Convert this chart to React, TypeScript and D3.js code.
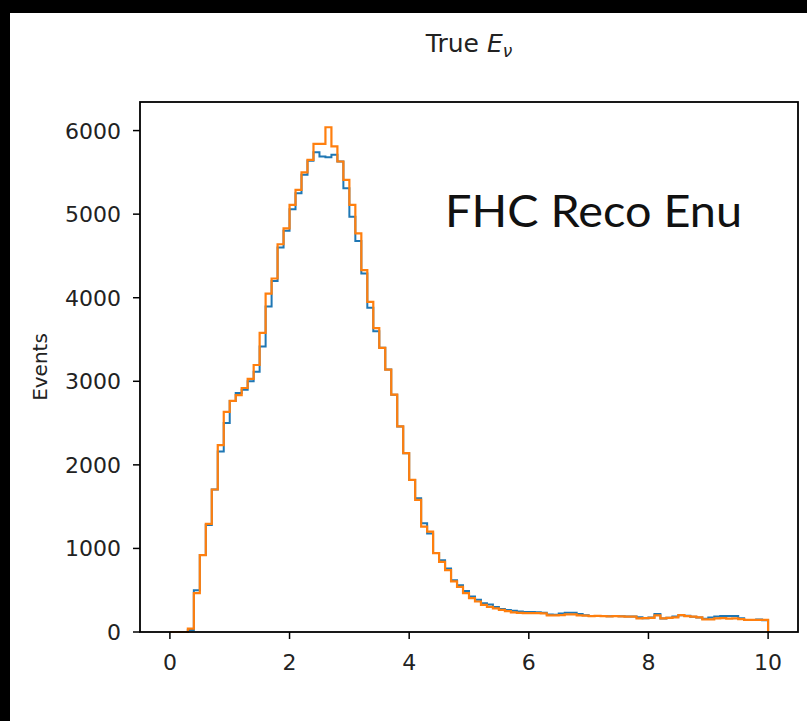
import React from "react";
import * as d3 from "d3";

const BIN_START = 0;
const BIN_WIDTH = 0.1;
const BIN_COUNT = 100;

const blueCounts = [
  0, 0, 0, 25, 500, 920, 1280, 1705, 2160, 2500,
  2765, 2860, 2900, 3000, 3115, 3415, 3895, 4200, 4600, 4800,
  5060, 5250, 5470, 5640, 5740, 5690, 5680, 5710, 5630, 5310,
  4970, 4680, 4290, 3880, 3600, 3400, 3140, 2840, 2460, 2140,
  1820, 1600, 1300, 1180, 945, 860, 760, 620, 560, 490,
  425, 385, 345, 330, 300, 275, 262, 255, 245, 240,
  240, 235, 230, 210, 205, 220, 231, 231, 215, 200,
  190, 192, 190, 188, 190, 187, 185, 185, 178, 165,
  175, 215, 163, 170, 185, 200, 195, 183, 175, 160,
  175, 185, 191, 191, 191, 165, 145, 145, 150, 140,
];

const orangeCounts = [
  0, 0, 0, 40, 465, 920, 1295, 1705, 2235, 2635,
  2765, 2835, 2920, 3030, 3195, 3580, 4050, 4230, 4640, 4830,
  5110, 5290, 5500, 5650, 5840, 5840, 6040, 5810, 5630, 5410,
  5110, 4770, 4330, 3950, 3635, 3400, 3140, 2840, 2460, 2140,
  1820, 1580, 1260, 1200, 945, 840, 740, 605, 540, 465,
  405, 365, 325, 300, 283, 265, 250, 235, 230, 225,
  225, 225, 222, 200, 200, 203, 210, 210, 200, 195,
  190, 192, 190, 188, 190, 187, 185, 185, 163, 165,
  170, 200, 163, 170, 175, 203, 190, 183, 175, 150,
  150, 163, 165, 160, 163, 155, 145, 145, 144, 144,
];

const xTicks = [0, 2, 4, 6, 8, 10];
const yTicks = [0, 1000, 2000, 3000, 4000, 5000, 6000];

const TITLE_MAIN = "True ";
const TITLE_SYM = "E";
const TITLE_SUB = "ν";
const Y_LABEL = "Events";
const ANNOTATION = "FHC Reco Enu";

const W = 807;
const H = 721;
const plot = { left: 140, top: 102, right: 798, bottom: 632 };
const tickFont = "'DejaVu Sans', sans-serif";

function stepPath(
  counts: number[],
  x: d3.ScaleLinear<number, number>,
  y: d3.ScaleLinear<number, number>
) {
  const pts: [number, number][] = [];
  const edge = (i: number) => BIN_START + i * BIN_WIDTH;
  pts.push([x(edge(0)), y(0)]);
  counts.forEach((c, i) => {
    pts.push([x(edge(i)), y(c)]);
    pts.push([x(edge(i + 1)), y(c)]);
  });
  pts.push([x(edge(BIN_COUNT)), y(0)]);
  return d3.line()(pts) || "";
}

export default function App() {
  const xMin = BIN_START;
  const xMax = BIN_START + BIN_COUNT * BIN_WIDTH;
  const pad = (xMax - xMin) * 0.05;
  const x = d3
    .scaleLinear()
    .domain([xMin - pad, xMax + pad])
    .range([plot.left, plot.right]);
  const yMaxData = d3.max([...blueCounts, ...orangeCounts]) as number;
  const y = d3
    .scaleLinear()
    .domain([0, yMaxData * 1.05])
    .range([plot.bottom, plot.top]);

  const cx = (plot.left + plot.right) / 2;
  const cy = (plot.top + plot.bottom) / 2;

  return (
    <svg
      width={W}
      height={H}
      viewBox={`0 0 ${W} ${H}`}
      style={{ position: "absolute", left: 0, top: 0, display: "block" }}
    >
      <rect x={0} y={0} width={W} height={H} fill="#ffffff" />
      <rect x={0} y={0} width={W} height={13} fill="#000000" />
      <rect x={0} y={0} width={10} height={H} fill="#000000" />

      {/* histograms */}
      <path
        d={stepPath(blueCounts, x, y)}
        fill="none"
        stroke="#1f77b4"
        strokeWidth={2}
        strokeLinejoin="miter"
      />
      <path
        d={stepPath(orangeCounts, x, y)}
        fill="none"
        stroke="#ff7f0e"
        strokeWidth={2.2}
        strokeLinejoin="miter"
      />

      {/* frame */}
      <rect
        x={plot.left}
        y={plot.top}
        width={plot.right - plot.left}
        height={plot.bottom - plot.top}
        fill="none"
        stroke="#000"
        strokeWidth={1.8}
      />

      {/* x ticks */}
      {xTicks.map((t) => (
        <g key={`xt${t}`}>
          <line
            x1={x(t)}
            x2={x(t)}
            y1={plot.bottom}
            y2={plot.bottom + 7}
            stroke="#000"
            strokeWidth={1.5}
          />
          <text
            x={x(t)}
            y={plot.bottom + 38}
            textAnchor="middle"
            fontFamily={tickFont}
            fontSize={22}
            fill="#222"
          >
            {t}
          </text>
        </g>
      ))}

      {/* y ticks */}
      {yTicks.map((t) => (
        <g key={`yt${t}`}>
          <line
            x1={plot.left - 7}
            x2={plot.left}
            y1={y(t)}
            y2={y(t)}
            stroke="#000"
            strokeWidth={1.5}
          />
          <text
            x={plot.left - 19}
            y={y(t)}
            dy="0.36em"
            textAnchor="end"
            fontFamily={tickFont}
            fontSize={22}
            fill="#222"
          >
            {t}
          </text>
        </g>
      ))}

      {/* y label */}
      <text
        transform={`translate(47, ${cy}) rotate(-90)`}
        textAnchor="middle"
        fontFamily={tickFont}
        fontSize={20}
        fill="#222"
      >
        {Y_LABEL}
      </text>

      {/* title */}
      <text
        x={cx}
        y={52}
        textAnchor="middle"
        fontFamily={tickFont}
        fontSize={25}
        fill="#222"
      >
        {TITLE_MAIN}
        <tspan fontStyle="italic">{TITLE_SYM}</tspan>
        <tspan fontSize={17} dy={5} fontStyle="italic">
          {TITLE_SUB}
        </tspan>
      </text>

      {/* annotation */}
      <text
        x={445}
        y={227}
        fontFamily="Lato, 'Noto Sans', sans-serif"
        fontSize={44}
        textLength={297}
        lengthAdjust="spacingAndGlyphs"
        fill="#111"
      >
        {ANNOTATION}
      </text>
    </svg>
  );
}
